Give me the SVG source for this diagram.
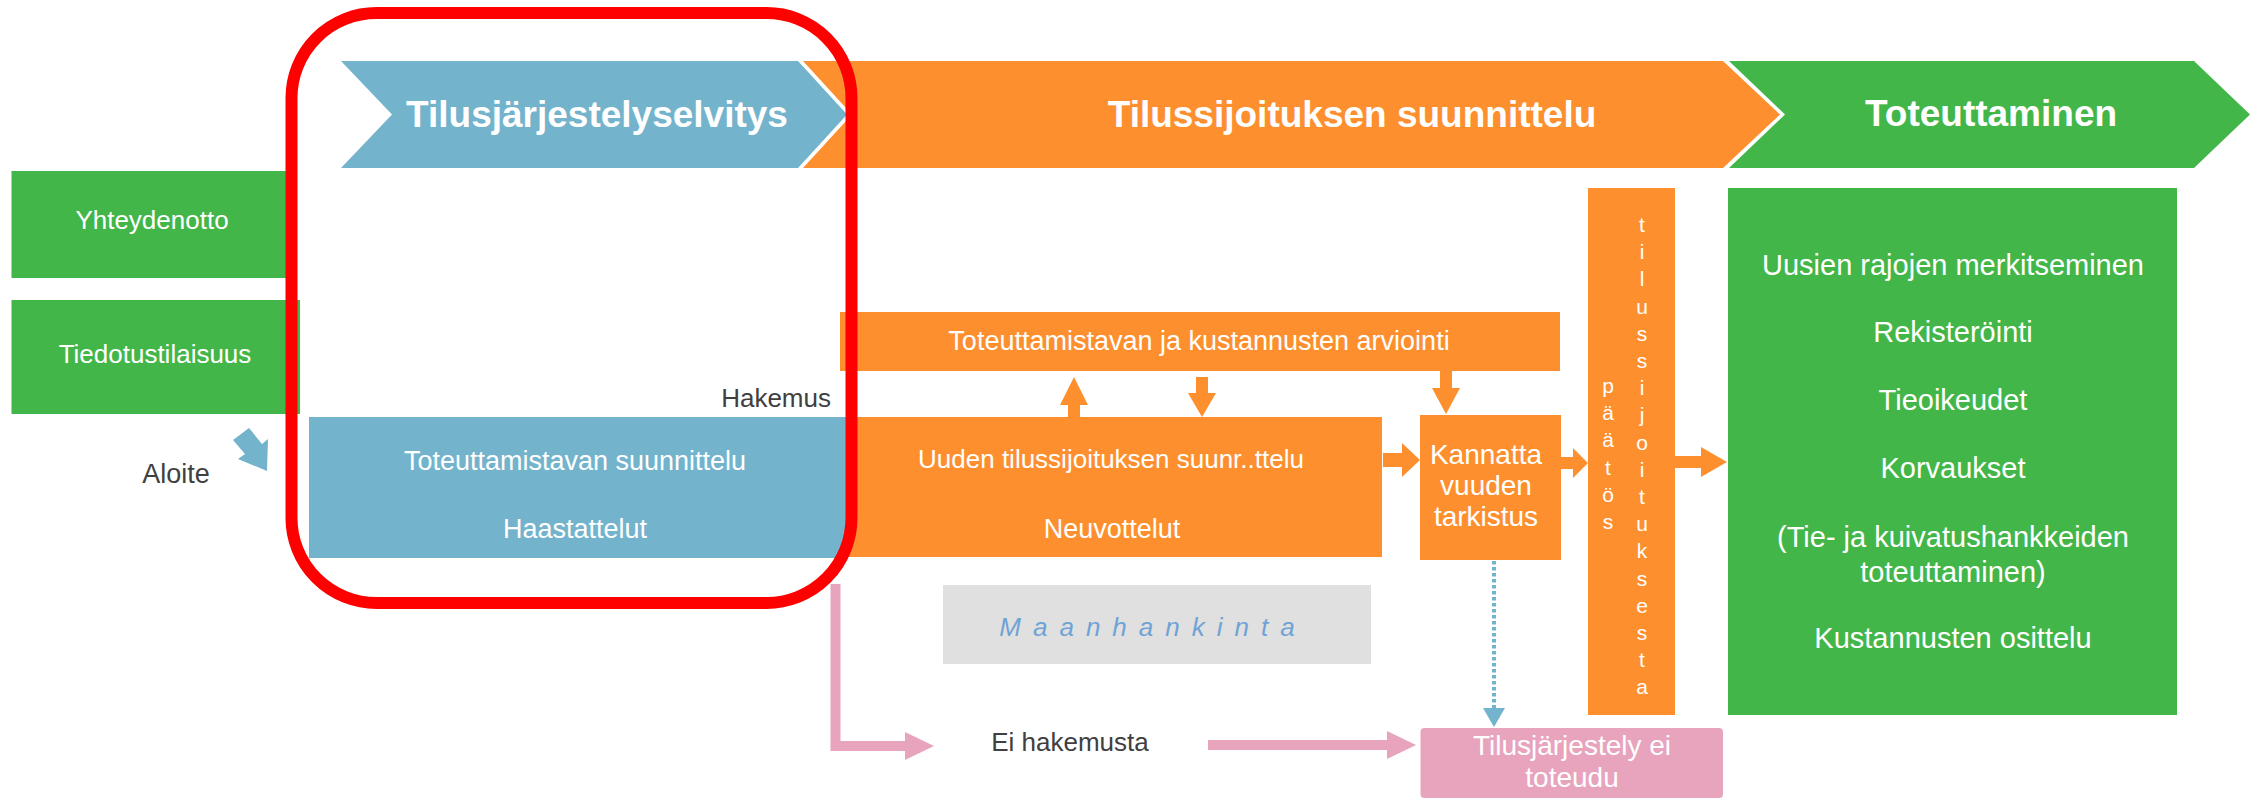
<svg xmlns="http://www.w3.org/2000/svg" width="2254" height="798" viewBox="0 0 2254 798">
<style>
text{font-family:"Liberation Sans",Arial,sans-serif}
.w{fill:#ffffff}
.d{fill:#404040}
.c{text-anchor:middle}
.hd{font-size:37px;font-weight:bold;fill:#ffffff;text-anchor:middle}
.t26{font-size:26px}
.t27{font-size:27px}
.t28{font-size:28px}
.t29{font-size:29px}
.blue{fill:#74b3cc}
.org{fill:#fe8f2e}
.grn{fill:#43b649}
.pink{fill:#e8a4bd}
.vt{font-size:21px;fill:#ffffff;text-anchor:middle}
</style>
<rect width="2254" height="798" fill="#ffffff"/>

<g id="phase-selvitys">
<polygon class="blue" points="341,61 798,61 847,114.5 798,168 341,168 392,114.5"/>
<text class="hd" x="597" y="127">Tilusjärjestelyselvitys</text>
</g>
<g id="phase-suunnittelu">
<polygon class="org" points="803,61 1723,61 1780,114.5 1723,168 803,168 852,114.5"/>
<text class="hd" x="1352" y="127">Tilussijoituksen suunnittelu</text>
</g>
<g id="phase-toteuttaminen">
<polygon class="grn" points="1729,61 2194,61 2250,114.5 2194,168 1729,168 1785,114.5"/>
<text class="hd" x="1991" y="126">Toteuttaminen</text>
</g>

<g id="yhteydenotto">
<rect class="grn" x="11.5" y="171" width="279" height="107"/>
<text class="w c t26" x="152" y="229">Yhteydenotto</text>
</g>
<g id="tiedotustilaisuus">
<rect class="grn" x="11.5" y="300" width="288.5" height="114"/>
<text class="w c t26" x="155" y="363">Tiedotustilaisuus</text>
</g>
<g id="aloite">
<text class="d t27" x="176" y="483" text-anchor="middle">Aloite</text>
</g>
<g id="hakemus">
<text class="d t26" x="831" y="407" text-anchor="end">Hakemus</text>
</g>

<g id="toteuttamistavan-suunnittelu">
<rect class="blue" x="309" y="417" width="537" height="141"/>
<text class="w c t27" x="575" y="470">Toteuttamistavan suunnittelu</text>
<text class="w c t27" x="575" y="538">Haastattelut</text>
</g>

<g id="arviointi">
<rect class="org" x="840" y="312" width="720" height="59"/>
<text class="w c t27" x="1199" y="350">Toteuttamistavan ja kustannusten arviointi</text>
</g>

<g id="uuden-suunnittelu">
<rect class="org" x="845" y="417" width="537" height="140"/>
<text class="w c t26" x="1111" y="468">Uuden tilussijoituksen suunr..ttelu</text>
<text class="w c t27" x="1112" y="538">Neuvottelut</text>
</g>

<g id="kannatta">
<rect class="org" x="1420" y="415" width="141" height="145"/>
<text class="w c t28" x="1486" y="464">Kannatta</text>
<text class="w c t28" x="1486" y="495">vuuden</text>
<text class="w c t28" x="1486" y="526">tarkistus</text>
</g>

<g id="paatos">
<rect class="org" x="1588" y="188" width="87" height="527"/>
<text class="vt"><tspan x="1608" y="393">p</tspan><tspan x="1608" dy="27.2">ä</tspan><tspan x="1608" dy="27.2">ä</tspan><tspan x="1608" dy="27.2">t</tspan><tspan x="1608" dy="27.2">ö</tspan><tspan x="1608" dy="27.2">s</tspan></text>
<text class="vt"><tspan x="1642" y="232">t</tspan><tspan x="1642" dy="27.2">i</tspan><tspan x="1642" dy="27.2">l</tspan><tspan x="1642" dy="27.2">u</tspan><tspan x="1642" dy="27.2">s</tspan><tspan x="1642" dy="27.2">s</tspan><tspan x="1642" dy="27.2">i</tspan><tspan x="1642" dy="27.2">j</tspan><tspan x="1642" dy="27.2">o</tspan><tspan x="1642" dy="27.2">i</tspan><tspan x="1642" dy="27.2">t</tspan><tspan x="1642" dy="27.2">u</tspan><tspan x="1642" dy="27.2">k</tspan><tspan x="1642" dy="27.2">s</tspan><tspan x="1642" dy="27.2">e</tspan><tspan x="1642" dy="27.2">s</tspan><tspan x="1642" dy="27.2">t</tspan><tspan x="1642" dy="27.2">a</tspan></text>
</g>

<g id="toteuttaminen-tehtavat">
<rect class="grn" x="1728" y="188" width="449" height="527"/>
<text class="w c t29" x="1953" y="275">Uusien rajojen merkitseminen</text>
<text class="w c t29" x="1953" y="342">Rekisteröinti</text>
<text class="w c t29" x="1953" y="410">Tieoikeudet</text>
<text class="w c t29" x="1953" y="478">Korvaukset</text>
<text class="w c t29" x="1953" y="547">(Tie- ja kuivatushankkeiden</text>
<text class="w c t29" x="1953" y="582">toteuttaminen)</text>
<text class="w c t29" x="1953" y="648">Kustannusten osittelu</text>
</g>

<g id="maanhankinta">
<rect x="943" y="585" width="428" height="79" fill="#e0e0e0"/>
<text x="1153" y="636" font-size="26" font-style="italic" letter-spacing="12" fill="#6fa3d6" text-anchor="middle">Maanhankinta</text>
</g>

<g id="ei-hakemusta">
<text class="d t26" x="1070" y="751" text-anchor="middle">Ei hakemusta</text>
</g>

<g id="ei-toteudu">
<rect class="pink" x="1420.5" y="728" width="302.5" height="70" rx="4"/>
<text class="w c t28" x="1572" y="755">Tilusjärjestely ei</text>
<text class="w c t28" x="1572" y="787">toteudu</text>
</g>

<g id="connectors">
<polygon class="blue" points="249,428 262,444 268,439 267,471 238,459 245,454 233,440"/>
<polygon class="org" points="1068,417 1068,405 1060,405 1074,377 1088,405 1080,405 1080,417"/>
<polygon class="org" points="1196,377 1208,377 1208,393 1216,393 1202,417 1188,393 1196,393"/>
<polygon class="org" points="1440,371 1452,371 1452,388 1460,388 1446,414 1432,388 1440,388"/>
<polygon class="org" points="1383,453 1402,453 1402,443 1420,460 1402,477 1402,467 1383,467"/>
<polygon class="org" points="1561,457 1573,457 1573,448 1588,463 1573,478 1573,469 1561,469"/>
<polygon class="org" points="1675,456 1701,456 1701,447 1727,462 1701,477 1701,468 1675,468"/>
<path d="M835.5,584 V746 H906" fill="none" stroke="#e8a4bd" stroke-width="10"/>
<polygon class="pink" points="905,732 934,746 905,760"/>
<path d="M1208,745 H1388" fill="none" stroke="#e8a4bd" stroke-width="10"/>
<polygon class="pink" points="1387,731 1416,745 1387,759"/>
<path d="M1494,561 V709" fill="none" stroke="#74b3ce" stroke-width="4" stroke-dasharray="3.5 2.5"/>
<polygon points="1483,708 1505,708 1494,727" fill="#74b3ce"/>
</g>

<g id="highlight">
<rect x="291.5" y="13" width="560" height="590" rx="85" ry="85" fill="none" stroke="#ff0000" stroke-width="12"/>
</g>
</svg>
